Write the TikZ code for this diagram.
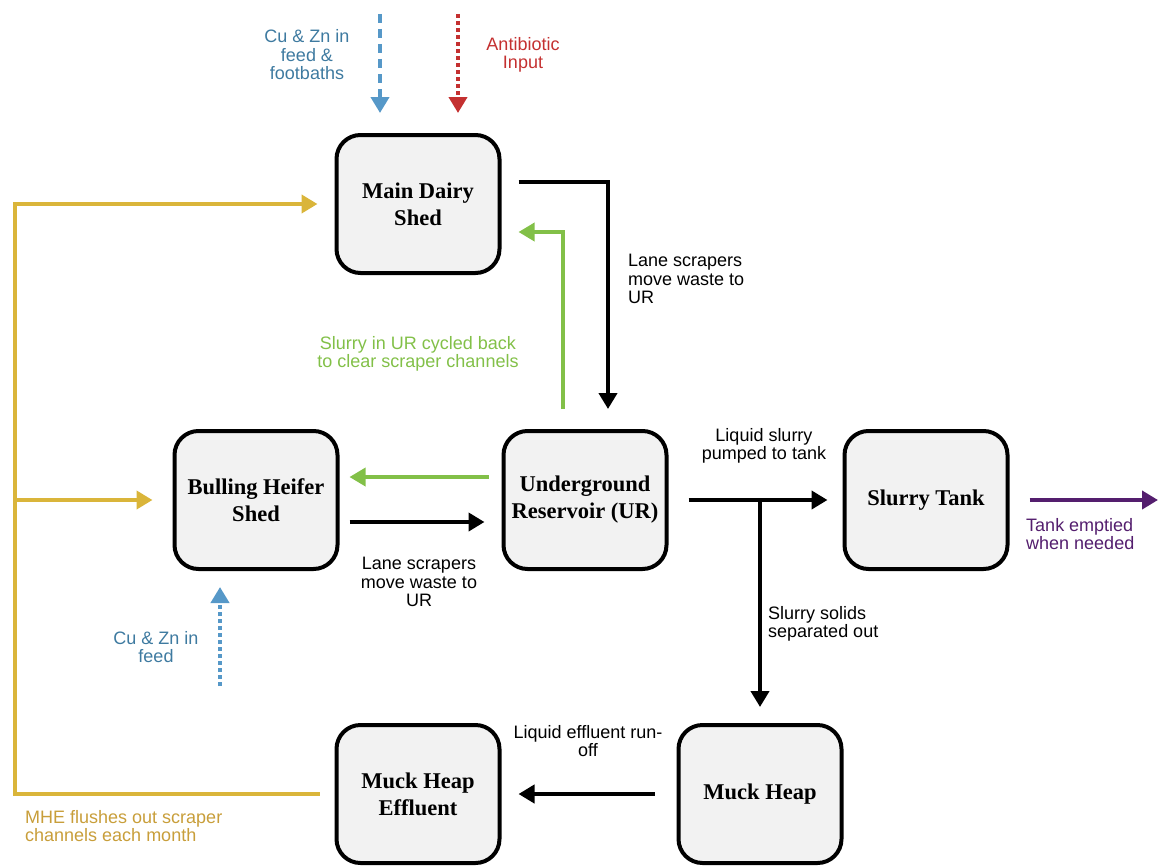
\documentclass[tikz,border=0pt]{standalone}
\usepackage{fontspec}
\setmainfont{Liberation Serif}
\setsansfont{Liberation Sans}
\usetikzlibrary{arrows.meta}
\definecolor{boxgray}{RGB}{242,242,242}
\definecolor{cublue}{RGB}{86,152,200}
\definecolor{cutext}{RGB}{62,122,160}
\definecolor{abred}{RGB}{196,48,48}
\definecolor{urgreen}{RGB}{130,192,72}
\definecolor{mhegold}{RGB}{218,181,58}
\definecolor{mhetext}{RGB}{200,158,58}
\definecolor{tankpurple}{RGB}{84,30,110}
\tikzset{
  shed/.style={draw,line width=4pt,rounded corners=24pt,fill=boxgray,
    minimum width=163pt,minimum height=138pt,align=center,
    font=\fontsize{22.5}{27}\selectfont\bfseries},
  note/.style={inner sep=0pt,align=center,font=\fontsize{18}{18.5}\selectfont\sffamily},
  flow/.style={line width=4pt,-{Triangle[length=16pt,width=18pt]}},
  dashflow/.style={flow,dash pattern=on 9pt off 6pt},
  dotflow/.style={flow,dash pattern=on 4pt off 3pt}
}

\begin{document}
\begin{tikzpicture}[x=1pt,y=-1pt]
\useasboundingbox (0,0) rectangle (1158,867);
% sheds and stores
\node[shed] (mds) at (418,204) {Main Dairy\\Shed};
\node[shed] (bhs) at (256,500) {Bulling Heifer\\Shed};
\node[shed] (ur) at (585,500) {Underground\\Reservoir (UR)};
\node[shed] (st) at (926,500) {Slurry Tank};
\node[shed] (mhe) at (418,794) {Muck Heap\\Effluent};
\node[shed] (mh) at (760,794) {Muck Heap};
\coordinate (cuin) at (380,14);
\coordinate (abin) at (458,14);
\coordinate (cufeed) at (220,686);
\coordinate (split) at (760,500);
\coordinate (loop) at (15,500);
\coordinate (out) at (1158,500);

% inputs
\draw[dashflow,cublue,shorten >=20pt] (cuin) -- ([xshift=-38pt]mds.north);
\draw[dotflow,abred,shorten >=20pt] (abin) -- ([xshift=40pt]mds.north);
\draw[dotflow,cublue,shorten >=16pt] (cufeed) -- ([xshift=-36pt]bhs.south);
\node[note,text=cutext] (cuinlbl) at (307,55) {Cu \& Zn in\\feed \&\\footbaths};
\node[note,text=abred] (abinlbl) at (523,55) {Antibiotic\\Input};
\node[note,text=cutext] (cufeedlbl) at (156,647) {Cu \& Zn in\\feed};

% scrapers
\draw[flow,shorten <=17pt,shorten >=20pt] ([yshift=22pt]mds.east) -| ([xshift=23pt]ur.north);
\draw[flow,urgreen,line width=3.5pt,shorten <=20pt,shorten >=17pt] ([xshift=-22pt]ur.north) |- ([yshift=-28pt]mds.east);
\draw[flow,urgreen,line width=3.5pt,shorten <=13pt,shorten >=10pt] ([yshift=23pt]ur.west) -- ([yshift=23pt]bhs.east);
\draw[flow,shorten <=10pt,shorten >=17pt] ([yshift=-22pt]bhs.east) -- ([yshift=-22pt]ur.west);
\node[note,align=left,anchor=west] (mdslbl) at (628,279) {Lane scrapers\\move waste to\\UR};
\node[note,text=urgreen] (cyclelbl) at (418,354) {Slurry in UR cycled back\\to clear scraper channels};
\node[note] (bhslbl) at (419,582) {Lane scrapers\\move waste to\\UR};

% slurry
\draw[flow,shorten <=20pt,shorten >=15pt] (ur.east) -- (st.west);
\draw[flow,shorten >=16pt] (split) -- (mh.north);
\draw[flow,shorten <=22pt,shorten >=17pt] (mh.west) -- (mhe.east);
\draw[flow,tankpurple,shorten <=20pt] (st.east) -- (out);
\node[note] (pumplbl) at (764,446) {Liquid slurry\\pumped to tank};
\node[note,align=left,anchor=west] (solidlbl) at (768,624) {Slurry solids\\separated out};
\node[note] (runofflbl) at (588,741) {Liquid effluent run-\\off};
\node[note,text=tankpurple,align=left,anchor=west] (outlbl) at (1026,534) {Tank emptied\\when needed};

% effluent flush
\draw[flow,mhegold,shorten <=15pt,shorten >=17pt] (mhe.west) -| (loop) |- (mds.west);
\draw[flow,mhegold,shorten >=20pt] (loop) -- (bhs.west);
\node[note,text=mhetext,align=left,anchor=west] (flushlbl) at (25,826) {MHE flushes out scraper\\channels each month};
\end{tikzpicture}
\end{document}
